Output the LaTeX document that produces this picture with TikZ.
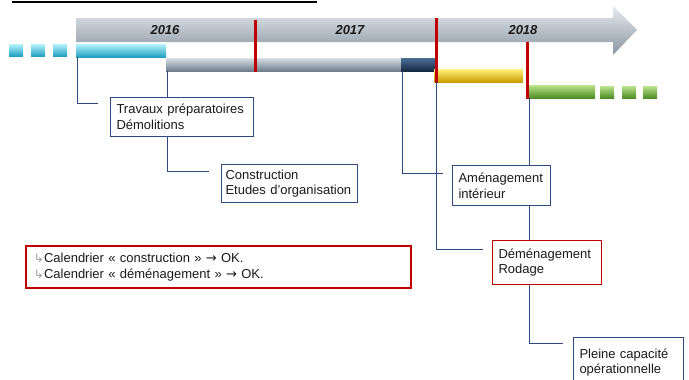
\documentclass[tikz,border=0pt]{standalone}
\usepackage{fontspec}
\setmainfont{Liberation Sans}
\newfontfamily\symfont{DejaVu Sans}
\usepackage{tikz}

\definecolor{lineblue}{HTML}{2F4A7E}
\definecolor{markred}{HTML}{C00000}
\definecolor{txt}{HTML}{1A1A1A}
\definecolor{arrowtop}{HTML}{E6EBEF}
\definecolor{arrowmid}{HTML}{C8D0D8}
\definecolor{arrowbot}{HTML}{8A95A0}
\definecolor{cyantop}{HTML}{B5F2FC}
\definecolor{cyanmid}{HTML}{55D3EE}
\definecolor{cyanbot}{HTML}{1F9FC0}
\definecolor{greytop}{HTML}{D5DDE4}
\definecolor{greymid}{HTML}{A9B6C2}
\definecolor{greybot}{HTML}{6E7D8B}
\definecolor{navytop}{HTML}{4D6E95}
\definecolor{navymid}{HTML}{2A4A70}
\definecolor{navybot}{HTML}{142840}
\definecolor{yellowtop}{HTML}{FFF27A}
\definecolor{yellowmid}{HTML}{FFD700}
\definecolor{yellowbot}{HTML}{C89A00}
\definecolor{greentop}{HTML}{B9E38A}
\definecolor{greenmid}{HTML}{8CC850}
\definecolor{greenbot}{HTML}{4E8A25}

\newcommand{\hook}{{\symfont\fontsize{12}{12}\selectfont\color{gray!75}↳}}
\newcommand{\sto}{{\symfont\fontsize{13}{13}\selectfont →}}

\tikzset{
  bar/.style = {anchor = north west, inner sep = 0pt, minimum height = 13pt},
  tick/.style = {anchor = north west, inner sep = 0pt, minimum width = 14pt, minimum height = 12pt},
  cyanfill/.style = {top color = cyantop, middle color = cyanmid, bottom color = cyanbot},
  greenfill/.style = {top color = greentop, middle color = greenmid, bottom color = greenbot},
  link/.style = {draw = lineblue, line width = 1pt},
  marker/.style = {draw = markred, line width = 3pt},
  note/.style = {draw = lineblue, line width = 1pt, fill = white, text = txt,
    anchor = north west, align = left, inner xsep = 6pt, inner ysep = 0pt,
    font = \fontsize{13}{15.6}\selectfont},
  year/.style = {font = \fontsize{13}{15}\selectfont\bfseries\itshape, text = txt}
}

\begin{document}
\begin{tikzpicture}[x = 1pt, y = -1pt]
  \clip (0, 0) rectangle (689, 380);
  \fill[white] (0, 0) rectangle (689, 380);

  \draw[line width = 1.5pt] (12, 2) -- (317, 2);

  % time arrow
  \shade[top color = arrowtop, middle color = arrowmid, bottom color = arrowbot]
    (76, 18) -- (613, 18) -- (613, 6) -- (637, 30) -- (613, 55) -- (613, 42) -- (76, 42) -- cycle;
  \node[year] (y2016) at (165, 30) {2016};
  \node[year] (y2017) at (350, 30) {2017};
  \node[year] (y2018) at (523, 30) {2018};

  % bars
  \node[bar, cyanfill, minimum width = 90pt] (cyanbar) at (76, 44) {};
  \node[bar, minimum width = 235pt, top color = greytop, middle color = greymid, bottom color = greybot] (greybar) at (166, 58) {};
  \node[bar, minimum width = 34pt, top color = navytop, middle color = navymid, bottom color = navybot] (navybar) at (401, 58) {};
  \node[bar, minimum width = 89pt, top color = yellowtop, middle color = yellowmid, bottom color = yellowbot] (yellowbar) at (434, 69) {};
  \node[bar, greenfill, minimum width = 67pt] (greenbar) at (528, 85) {};

  \foreach \x/\n in {9/1, 31/2, 53/3}
    \node[tick, cyanfill] (cyantick\n) at (\x, 44) {};
  \foreach \x/\n in {600/1, 622/2, 643/3}
    \node[tick, greenfill] (greentick\n) at (\x, 86) {};

  % milestones
  \draw[marker] (255, 20) -- (255, 72);
  \draw[marker] (436, 18) -- (436, 83);
  \draw[marker] (527, 42) -- (527, 99);

  % connectors
  \coordinate (c1) at (98, 103);
  \coordinate (c2) at (209, 171);
  \coordinate (c3) at (443, 173);
  \coordinate (c4) at (483, 249);
  \coordinate (c5) at (563, 343);
  \draw[link] ([xshift = 1pt]cyanbar.south west) |- (c1);
  \draw[link] ([xshift = 1.5pt]greybar.south west) |- (c2);
  \draw[link] ([xshift = 1pt]navybar.south west) |- (c3);
  \draw[link] ([xshift = 2pt]yellowbar.south west) |- (c4);
  \draw[link] ([xshift = 1pt]greenbar.south west) |- (c5);

  % labels
  \node[note, text width = 131pt, minimum height = 39pt] (travaux) at (110, 97)
    {Travaux préparatoires\\Démolitions};
  \node[note, inner xsep = 4pt, text width = 128pt, minimum height = 38pt] (construction) at (221, 164)
    {Construction\\Etudes d’organisation};
  \node[note, text width = 86pt, minimum height = 40pt] (amenagement) at (452, 165)
    {Aménagement\\intérieur};
  \node[note, draw = markred, text width = 97pt, minimum height = 44pt] (demenagement) at (492, 240)
    {Déménagement\\Rodage};
  \node[note, text width = 98pt, minimum height = 50pt] (pleine) at (573, 337)
    {Pleine capacité\\opérationnelle};

  \node[note, draw = markred, line width = 2pt, inner xsep = 8pt, text width = 369pt, minimum height = 42pt] (calendrier) at (25, 245)
    {\hook Calendrier « construction » \sto{} OK.\\\hook Calendrier « déménagement » \sto{} OK.};
\end{tikzpicture}
\end{document}
